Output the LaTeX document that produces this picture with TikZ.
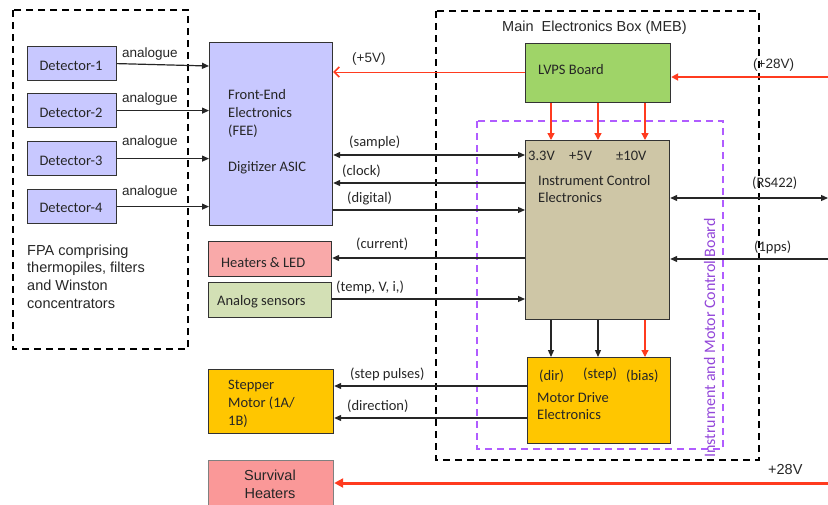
\documentclass[tikz,border=0pt]{standalone}
\usepackage{fontspec}
\setmainfont{Carlito}
\newfontfamily\arialf{Liberation Sans}
\usetikzlibrary{arrows.meta}
\definecolor{lav}{HTML}{C8C8FF}
\definecolor{lvpsc}{HTML}{9FD468}
\definecolor{icec}{HTML}{CEC6A6}
\definecolor{mdec}{HTML}{FFC600}
\definecolor{heatc}{HTML}{F9A9A9}
\definecolor{asensc}{HTML}{D3E0B5}
\definecolor{survc}{HTML}{FA9898}
\definecolor{redl}{HTML}{FF3B1F}
\definecolor{purp}{HTML}{B05CFF}
\definecolor{purpt}{HTML}{9347D9}
\begin{document}
\begin{tikzpicture}[x=1pt,y=-1pt,
  font=\fontsize{14.5}{17.5}\selectfont,
  box/.style={draw=black!80, line width=1.2pt, inner sep=0pt, anchor=north west},
  txt/.style={anchor=base west, inner sep=0pt, text=black!85},
  ctxt/.style={anchor=base, inner sep=0pt, text=black!85},
  lbl/.style={anchor=base west, inner sep=0pt, text=black!85},
  alb/.style={anchor=base west, inner sep=0pt, text=black!85, font=\arialf\fontsize{13.5}{16}\selectfont},
  sig/.style={draw=black!85, line width=1.2pt, -{Triangle[length=7pt,width=6pt]}},
  sigb/.style={draw=black!85, line width=1.2pt, {Triangle[length=7pt,width=6pt]}-{Triangle[length=7pt,width=6pt]}},
  pwr/.style={draw=redl, line width=1.4pt, -{Triangle[length=7pt,width=7pt]}},
  dbox/.style={draw=black, line width=1.5pt, dash pattern=on 7pt off 5pt},
]
\useasboundingbox (0,0) rectangle (828,504);

% dashed containers
\draw[dbox] (13,10) rectangle (188,349);
\draw[dbox] (436,11) rectangle (759,460);
\draw[draw=purp, line width=1.5pt, dash pattern=on 7pt off 5pt] (477,121) rectangle (723,449);

% FPA boxes
\node[box, fill=lav, minimum width=89pt, minimum height=34pt] (d1) at (27,46) {};
\node[box, fill=lav, minimum width=89pt, minimum height=34pt] (d2) at (27,93) {};
\node[box, fill=lav, minimum width=89pt, minimum height=34pt] (d3) at (27,141) {};
\node[box, fill=lav, minimum width=89pt, minimum height=34pt] (d4) at (27,189) {};
\node[ctxt] (d1t) at (71,70) {Detector-1};
\node[ctxt] (d2t) at (71,117) {Detector-2};
\node[ctxt] (d3t) at (71,165) {Detector-3};
\node[ctxt] (d4t) at (71,212) {Detector-4};
\node[alb] (a1) at (122,57) {analogue};
\node[alb] (a2) at (122,102) {analogue};
\node[alb] (a3) at (122,145.5) {analogue};
\node[alb] (a4) at (122,195) {analogue};
\begin{scope}[every node/.style={anchor=base west, inner sep=0pt, text=black!85, font=\arialf\fontsize{14.5}{17}\selectfont}]
\node (f1) at (27,255) {FPA comprising};
\node (f2) at (27,272.5) {thermopiles, filters};
\node (f3) at (27,290) {and Winston};
\node (f4) at (27,308) {concentrators};
\end{scope}

% FEE
\node[box, fill=lav, minimum width=123pt, minimum height=183pt] (fee) at (209,42) {};
\node[txt] (fe1) at (228,99) {Front-End};
\node[txt] (fe2) at (228,117) {Electronics};
\node[txt] (fe3) at (228,135) {(FEE)};
\node[txt] (fe4) at (228,171) {Digitizer ASIC};

% Heaters & sensors
\node[box, fill=heatc, minimum width=123pt, minimum height=35pt] (heat) at (208,241) {};
\node[txt] (heatt) at (221,267) {Heaters \& LED};
\node[box, fill=asensc, minimum width=123pt, minimum height=35pt] (asens) at (208,282) {};
\node[txt] (asenst) at (217,305) {Analog sensors};

% Stepper
\node[box, fill=mdec, minimum width=125pt, minimum height=64pt] (stepm) at (208,369) {};
\node[txt] (st1) at (228,389) {Stepper};
\node[txt] (st2) at (228,407) {Motor (1A/};
\node[txt] (st3) at (228,425) {1B)};

% Survival heaters
\node[box, fill=survc, draw=black!50, minimum width=125pt, minimum height=50pt] (surv) at (208,460) {};
\node[ctxt, font=\arialf\fontsize{14.5}{17}\selectfont] (sv1) at (270,480) {Survival};
\node[ctxt, font=\arialf\fontsize{14.5}{17}\selectfont] (sv2) at (270,498) {Heaters};

% MEB
\node[anchor=base west, inner sep=0pt, text=black!85, font=\arialf\fontsize{14.5}{17}\selectfont] (meb) at (502,31) {Main\ \ Electronics Box (MEB)};
\node[box, fill=lvpsc, minimum width=145pt, minimum height=59pt] (lvps) at (525,43) {};
\node[txt] (lvpst) at (538,74) {LVPS Board};

\node[box, fill=icec, minimum width=144pt, minimum height=179pt] (ice) at (525,140) {};
\node[txt] (v33) at (528,160) {3.3V};
\node[txt] (v5) at (569,160) {+5V};
\node[txt] (v10) at (616,160) {±10V};
\node[txt] (ic1) at (538,185) {Instrument Control};
\node[txt] (ic2) at (538,202) {Electronics};

\node[box, fill=mdec, minimum width=143pt, minimum height=86pt] (mde) at (527,357) {};
\node[txt] (dir) at (539,380) {(dir)};
\node[txt] (stp) at (583,378) {(step)};
\node[txt] (bias) at (626,380) {(bias)};
\node[txt] (md1) at (537,402) {Motor Drive};
\node[txt] (md2) at (537,419) {Electronics};

\node[anchor=base, inner sep=0pt, rotate=90, text=purpt, font=\fontsize{16}{19}\selectfont] (imcb) at (715,338) {Instrument and Motor Control Board};

% signal labels
\node[lbl] (lsample) at (349,146) {(sample)};
\node[lbl] (lclock) at (342,175) {(clock)};
\node[lbl] (ldig) at (347,202) {(digital)};
\node[lbl] (lcur) at (356,248) {(current)};
\node[lbl] (ltemp) at (336,291) {(temp, V, i,)};
\node[lbl] (lsp) at (350,378) {(step pulses)};
\node[lbl] (ldir) at (347,410) {(direction)};
\node[alb] (l5v) at (352,62) {(+5V)};
\node[alb] (l28a) at (753,68) {(+28V)};
\node[lbl] (lrs) at (752,187) {(RS422)};
\node[lbl] (lpps) at (754,251) {(1pps)};
\node[anchor=base west, inner sep=0pt, text=black!85, font=\arialf\fontsize{14.5}{17}\selectfont] (l28b) at (768,474) {+28V};

% external coordinates
\coordinate (in28) at (828,77);
\coordinate (rs) at (828,198);
\coordinate (pps) at (828,259);
\coordinate (s28) at (828,483);

% connectors
\draw[sig] (d1.east) -- (fee.west |- 0,66);
\draw[sig] (d2.east) -- (fee.west |- d2.east);
\draw[sig] (d3.east) -- (fee.west |- d3.east);
\draw[sig] (d4.east) -- (fee.west |- d4.east);

\draw[draw=redl, line width=1pt, -{Straight Barb[length=5pt,width=10pt,line width=1.6pt]}] (lvps.west |- 0,72) -- (fee.east |- 0,72);
\draw[sigb] (fee.east |- 0,155) -- (ice.west |- 0,155);
\draw[sig] (ice.west |- 0,183) -- (fee.east |- 0,183);
\draw[sig] (fee.east |- 0,210) -- (ice.west |- 0,210);
\draw[sig] (ice.west |- 0,258) -- (heat.east |- 0,258);
\draw[sig] (asens.east |- 0,299) -- (ice.west |- 0,299);
\draw[sig] (mde.west |- 0,386) -- (stepm.east |- 0,386);
\draw[sig] (mde.west |- 0,418) -- (stepm.east |- 0,418);

\draw[pwr, line width=2pt] (in28) -- (lvps.east |- in28);
\draw[sigb] (rs) -- (ice.east |- rs);
\draw[sig] (pps) -- (ice.east |- pps);

\draw[pwr] (lvps.south -| 551,0) -- (ice.north -| 551,0);
\draw[pwr] (lvps.south -| 598,0) -- (ice.north -| 598,0);
\draw[pwr] (lvps.south -| 645,0) -- (ice.north -| 645,0);

\draw[sig] (ice.south -| 551,0) -- (mde.north -| 551,0);
\draw[sig] (ice.south -| 598,0) -- (mde.north -| 598,0);
\draw[pwr, line width=1.2pt] (ice.south -| 645,0) -- (mde.north -| 645,0);

\draw[pwr, line width=3pt, -{Triangle[length=9pt,width=9pt]}] (s28) -- (surv.east |- s28);
\end{tikzpicture}
\end{document}
